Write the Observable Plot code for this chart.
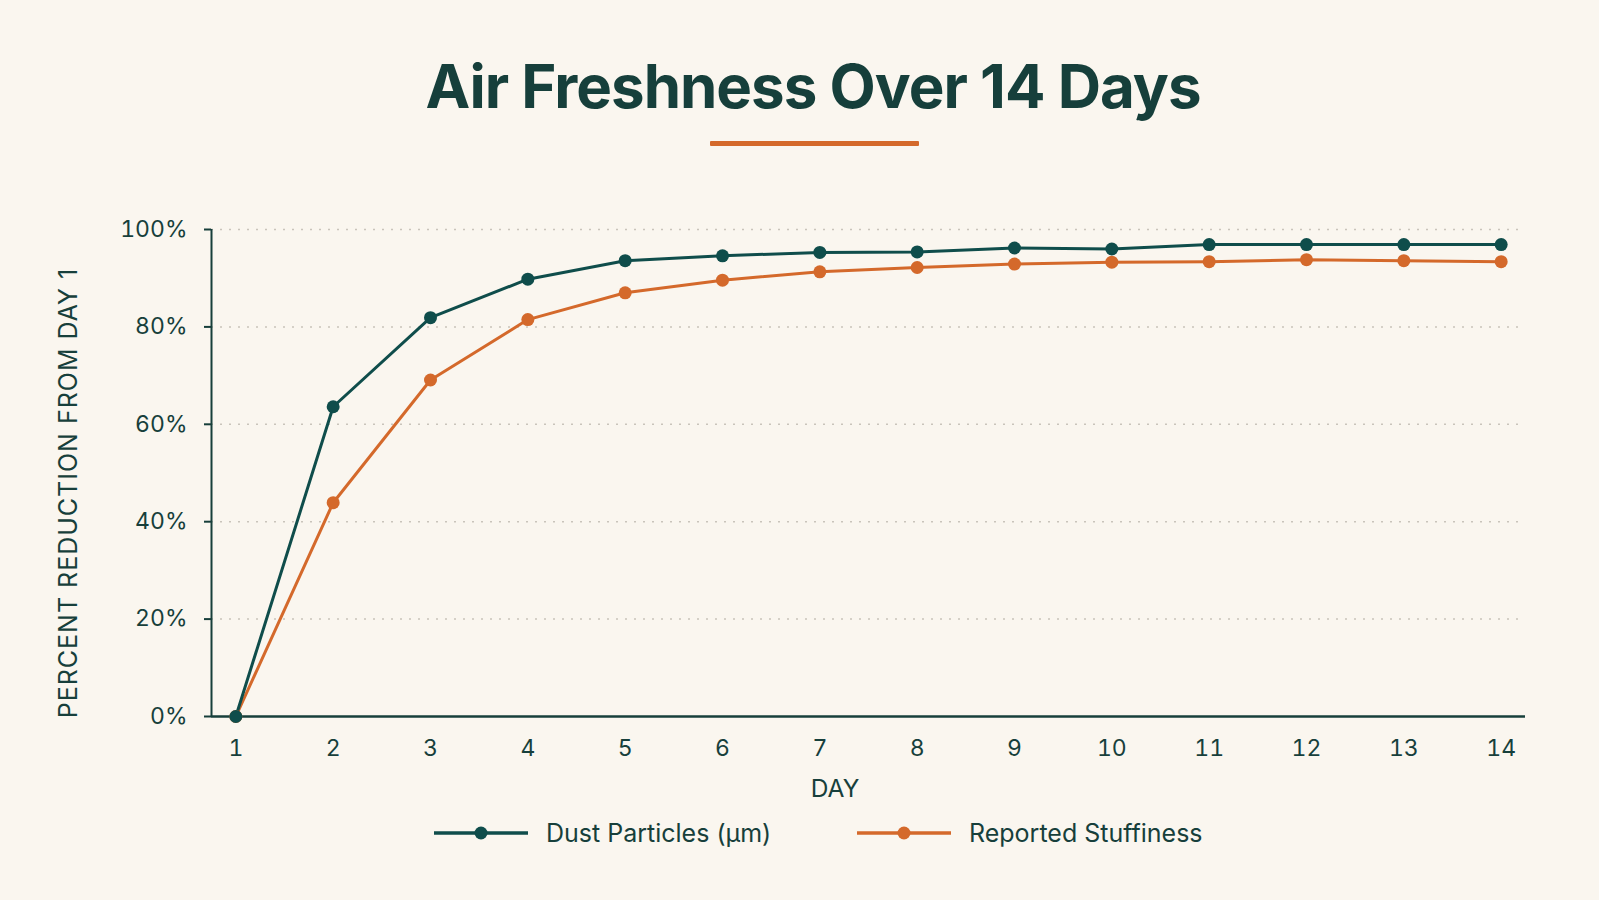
<!DOCTYPE html>
<html>
<head>
<meta charset="utf-8">
<script src="https://cdn.jsdelivr.net/npm/d3@7"></script>
<script src="https://cdn.jsdelivr.net/npm/@observablehq/plot@0.6"></script>
<style>
  html, body { margin: 0; padding: 0; background: #faf6ef; }
  body { width: 1599px; height: 900px; position: relative; overflow: hidden; font-family: Inter, "Noto Sans", sans-serif; color: #173f3b; }
  #chart { position: absolute; left: 0; top: 0; }
  .title { position: absolute; left: 813px; top: 50px; transform: translateX(-50%); font-size: 60px; font-weight: 700; letter-spacing: -1px; line-height: 72px; white-space: nowrap; color: #163f3b; }
  .rule { position: absolute; left: 710px; top: 141px; width: 209px; height: 5px; background: #d4692b; border-radius: 1px; }
  .ylabel { position: absolute; left: 68px; top: 493px; transform: translate(-50%, -50%) rotate(-90deg); font-size: 25px; letter-spacing: 1px; white-space: nowrap; line-height: 28px; }
  .xlabel { position: absolute; left: 835px; top: 788px; transform: translate(-50%, -50%); font-size: 24.5px; line-height: 28px; }
  .legend { position: absolute; top: 833px; left: 0; }
  .item { position: absolute; top: 0; transform: translateY(-50%); display: flex; align-items: center; white-space: nowrap; font-size: 25px; }
  .item svg { margin-right: 18px; }
</style>
</head>
<body>
<div class="title">Air Freshness Over 14 Days</div>
<div class="rule"></div>
<div class="ylabel">PERCENT REDUCTION FROM DAY 1</div>
<div class="xlabel">DAY</div>
<div id="chart"></div>
<div class="legend" id="legend"></div>
<script>
const days = [1, 2, 3, 4, 5, 6, 7, 8, 9, 10, 11, 12, 13, 14];
const dustParticles = [0, 63.6, 81.9, 89.8, 93.6, 94.6, 95.3, 95.4, 96.2, 96.0, 96.9, 96.9, 96.9, 96.9];
const reportedStuffiness = [0, 43.9, 69.1, 81.5, 87.0, 89.6, 91.3, 92.2, 92.9, 93.3, 93.4, 93.8, 93.6, 93.4];
const seriesNames = ["Dust Particles (µm)", "Reported Stuffiness"];
const seriesColors = ["#0f4d4b", "#d4692b"];
const yTicks = [0, 20, 40, 60, 80, 100];

const rows = [];
// draw stuffiness first so dust sits on top
days.forEach((d, i) => rows.push({day: d, value: reportedStuffiness[i], series: seriesNames[1]}));
days.forEach((d, i) => rows.push({day: d, value: dustParticles[i], series: seriesNames[0]}));

const plot = Plot.plot({
  width: 1599,
  height: 900,
  marginLeft: 211,
  marginRight: 74,
  marginTop: 229,
  marginBottom: 184,
  style: {background: "transparent", fontFamily: "Inter, 'Noto Sans', sans-serif", fontSize: "23px", color: "#173f3b"},
  x: {domain: [0.75, 14.25], label: null},
  y: {domain: [0, 100], label: null},
  color: {domain: seriesNames, range: seriesColors},
  marks: [
    Plot.ruleY(yTicks.filter(t => t > 0), {stroke: "#c9c4bb", strokeWidth: 1.5, strokeDasharray: "2,7"}),
    Plot.axisY({ticks: yTicks, tickFormat: d => d + "%", tickSize: 7, tickPadding: 17, stroke: "#173f3b", strokeWidth: 2, label: null}),
    Plot.axisX({ticks: days, tickFormat: d => String(d), tickSize: 0, tickPadding: 23, label: null}),
    Plot.ruleX([0.75], {y1: 0, y2: 100, stroke: "#173f3b", strokeWidth: 2}),
    Plot.ruleY([0], {stroke: "#173f3b", strokeWidth: 2.5}),
    Plot.line(rows, {x: "day", y: "value", z: "series", stroke: "series", strokeWidth: 3}),
    Plot.dot(rows, {x: "day", y: "value", fill: "series", r: 6.5})
  ]
});
document.getElementById("chart").appendChild(plot);

// legend
const legendLefts = [434, 857];
const legend = document.getElementById("legend");
seriesNames.forEach((name, i) => {
  const item = document.createElement("div");
  item.className = "item";
  item.style.left = legendLefts[i] + "px";
  item.innerHTML = `<svg width="94" height="16"><line x1="0" x2="94" y1="8" y2="8" stroke="${seriesColors[i]}" stroke-width="3.5"/><circle cx="47" cy="8" r="6.5" fill="${seriesColors[i]}"/></svg><span>${name}</span>`;
  legend.appendChild(item);
});
</script>
</body>
</html>
